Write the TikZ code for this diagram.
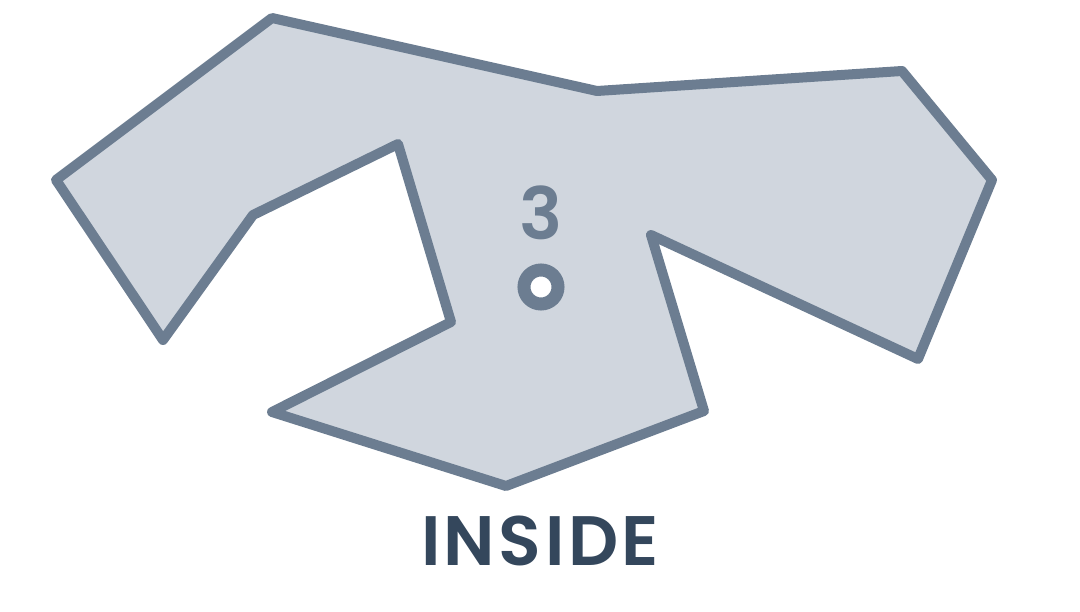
\documentclass[tikz,border=0pt]{standalone}
\usepackage{fontspec}
\newfontfamily\popb[LetterSpace=5]{Poppins SemiBold}
\newfontfamily\pops{Poppins SemiBold}
\definecolor{edge}{HTML}{6C7D91}
\definecolor{shade}{HTML}{D0D6DE}
\definecolor{ink}{HTML}{34475C}
\begin{document}
\begin{tikzpicture}[x=1pt,y=-1pt,
  shapeline/.style={draw=edge,fill=shade,line width=10pt,line join=round},
  ring/.style={circle,draw=edge,fill=white,line width=13pt,minimum size=34pt,inner sep=0pt},
  numlabel/.style={text=edge,font=\pops\fontsize{72}{72}\selectfont,inner sep=0pt},
  title/.style={text=ink,font=\popb\fontsize{70}{70}\selectfont,inner sep=0pt}]
\useasboundingbox (0,0) rectangle (1080,612);
\draw[shapeline] (272,18) -- (597,91) -- (902,71) -- (992,180) -- (918,359) -- (651,235) -- (704,411) -- (506,486) -- (272,412) -- (451,322) -- (398,144) -- (253,215) -- (163,340) -- (56,180) -- cycle;
\node[numlabel] (num) at (541,213) {3};
\node[ring] (dot) at (541,287) {};
\node[title] (lbl) at (540,541) {INSIDE};
\end{tikzpicture}
\end{document}
